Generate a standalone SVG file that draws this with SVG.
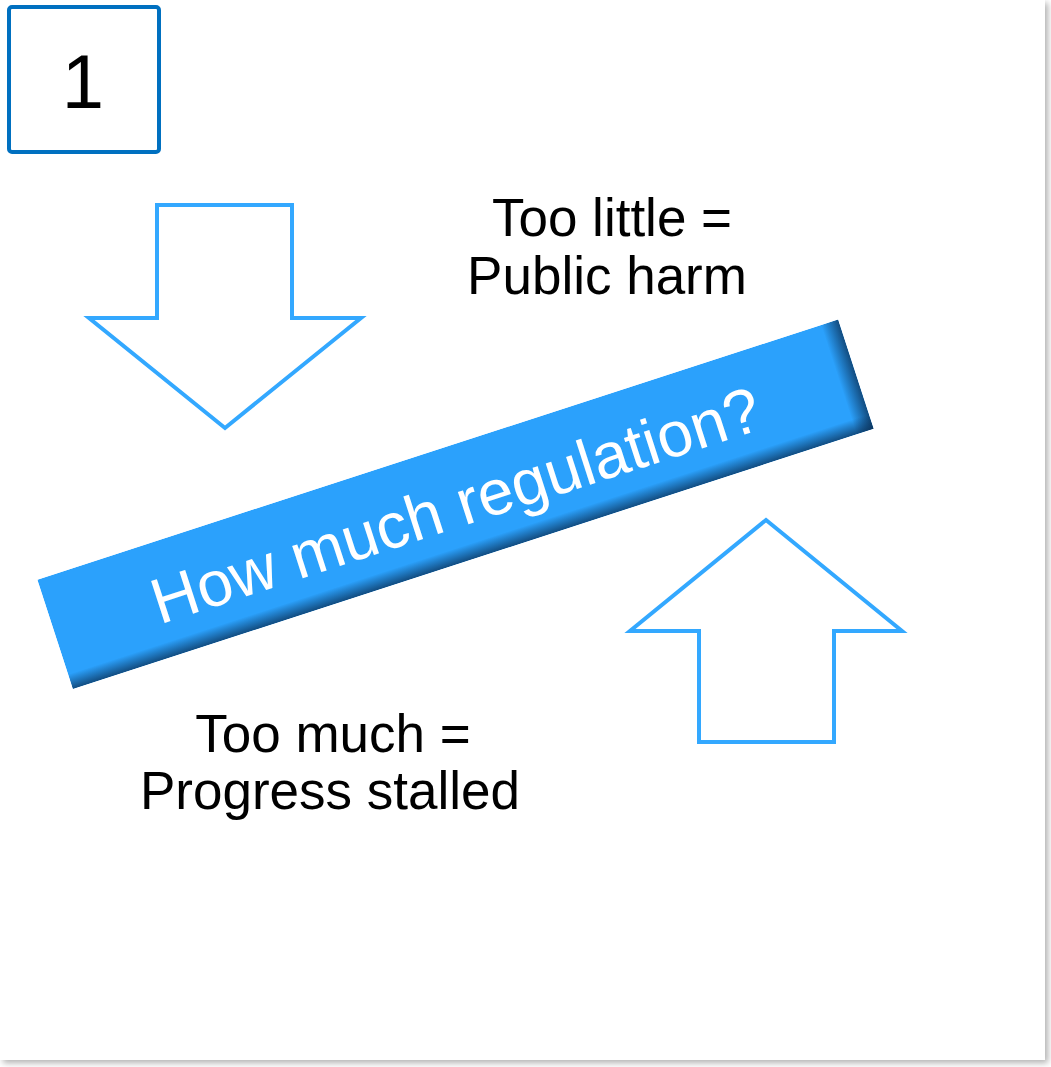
<svg xmlns="http://www.w3.org/2000/svg" width="1051" height="1067" viewBox="0 0 1051 1067">
  <defs>
    <style>
      .label { font-family: "Liberation Sans", Arial, sans-serif; fill: #000; text-anchor: middle; }
      .block-arrow { fill: #fff; stroke: #33a8ff; stroke-width: 4; stroke-linejoin: miter; }
      .banner-text { font-family: "Liberation Sans", Arial, sans-serif; fill: #fff; text-anchor: middle; font-size: 64px; }
    </style>
    <filter id="cardShadow" x="-5%" y="-5%" width="110%" height="110%">
      <feDropShadow dx="3" dy="3" stdDeviation="3" flood-color="#000" flood-opacity="0.3"/>
    </filter>
    <!-- inner shading along the right end and lower edge of the banner -->
    <linearGradient id="shadeRight" x1="0" y1="0" x2="1" y2="0">
      <stop offset="0" stop-color="#0a2f55" stop-opacity="0"/>
      <stop offset="1" stop-color="#0a2f55" stop-opacity="0.75"/>
    </linearGradient>
    <linearGradient id="shadeBottom" x1="0" y1="0" x2="0" y2="1">
      <stop offset="0" stop-color="#0a2f55" stop-opacity="0"/>
      <stop offset="1" stop-color="#0a2f55" stop-opacity="0.75"/>
    </linearGradient>
    <clipPath id="bannerClip">
      <rect x="-421" y="-57.5" width="842" height="115"/>
    </clipPath>
  </defs>

  <!-- page card -->
  <rect x="0" y="0" width="1051" height="1067" fill="#ffffff"/>
  <rect x="0" y="0" width="1045" height="1060" fill="#ffffff" filter="url(#cardShadow)"/>

  <!-- step number box -->
  <g id="step-number">
    <rect x="9" y="7" width="150" height="145" rx="3" fill="#fff" stroke="#0070c0" stroke-width="4"/>
    <text class="label" x="83" y="108" font-size="76">1</text>
  </g>

  <!-- downward block arrow -->
  <g id="arrow-down">
    <polygon class="block-arrow" points="157,205 292,205 292,318 361,318 225,428 89,318 157,318"/>
  </g>

  <!-- upward block arrow -->
  <g id="arrow-up">
    <polygon class="block-arrow" points="766,520 902,631 834,631 834,742 699,742 699,631 630,631"/>
  </g>

  <!-- tilted banner -->
  <g id="banner" transform="translate(455.5,504.25) rotate(-18)">
    <g clip-path="url(#bannerClip)">
      <rect x="-421" y="-57.5" width="842" height="115" fill="#2ba1fc"/>
      <rect x="403" y="-57.5" width="18" height="115" fill="url(#shadeRight)"/>
      <rect x="-421" y="42" width="842" height="15.5" fill="url(#shadeBottom)"/>
    </g>
    <text class="banner-text" x="0" y="23">How much regulation?</text>
  </g>

  <!-- captions -->
  <g id="label-too-little">
    <text class="label" font-size="53"><tspan x="612" y="236">Too little =</tspan><tspan x="607" y="294">Public harm</tspan></text>
  </g>
  <g id="label-too-much">
    <text class="label" font-size="53"><tspan x="333" y="752">Too much =</tspan><tspan x="330" y="809">Progress stalled</tspan></text>
  </g>

  <g id="connectors"/>
</svg>
